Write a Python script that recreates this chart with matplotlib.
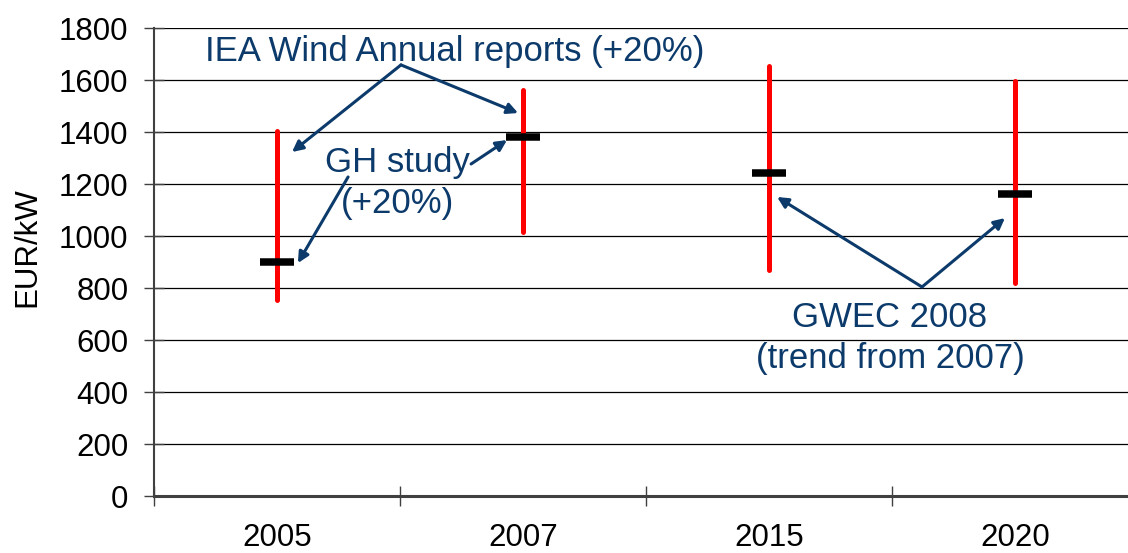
import matplotlib

matplotlib.use("Agg")
import matplotlib.pyplot as plt

plt.rcParams["font.family"] = ["Liberation Sans", "DejaVu Sans"]

# cost ranges per year (EUR/kW): red bar = low..high, black dash = central value
years = ["2005", "2007", "2015", "2020"]
cost_low = [752, 1016, 869, 819]
cost_high = [1405, 1561, 1654, 1597]
cost_mid = [900, 1381, 1241, 1161]

NAVY = "#0b3a6b"
W, H = 1128, 553

fig = plt.figure(figsize=(W / 100, H / 100), dpi=100)
ax = fig.add_axes([154 / W, 57 / H, 984 / W, 468 / H])

x = list(range(len(years)))
red = ax.vlines(x, cost_low, cost_high, color="#ff0000", lw=3.6, zorder=3)
red.set_capstyle("round")
ax.hlines(cost_mid, [i - 0.068 for i in x], [i + 0.068 for i in x],
          color="black", lw=5.4, zorder=4)

ax.set_xlim(-0.5, 3.5)
ax.set_ylim(0, 1800)
ax.set_yticks(range(0, 1801, 200))
ax.yaxis.grid(True, color="black", lw=0.9)
ax.set_axisbelow(True)

# category ticks sit between the labels
ax.set_xticks([-0.5, 0.5, 1.5, 2.5, 3.5])
ax.set_xticklabels([])
ax.set_xticks(x, minor=True)
ax.set_xticklabels(years, minor=True)
ax.tick_params(axis="x", which="major", direction="inout", length=14, width=1, color="#404040")
ax.tick_params(axis="x", which="minor", length=0, pad=19.5, labelsize=22.5)
ax.tick_params(axis="y", direction="inout", length=14, width=1, color="#404040",
               pad=11.5, labelsize=22.5)

for side in ("top", "right"):
    ax.spines[side].set_visible(False)
ax.spines["left"].set_color("#404040")
ax.spines["left"].set_linewidth(1.5)
ax.spines["bottom"].set_color("#404040")
ax.spines["bottom"].set_linewidth(2.2)

fig.text(27 / W, 1 - 247 / H, "EUR/kW", rotation=90, ha="center", va="center", fontsize=22.5)

arrow = dict(arrowstyle="-|>", color=NAVY, lw=2.2, mutation_scale=16, shrinkA=0, shrinkB=0)
ann = dict(color=NAVY, fontsize=25, ha="center", va="baseline", zorder=6)

# IEA Wind
ax.text(0.724, 1673, "IEA Wind Annual reports (+20%)", **ann)
ax.annotate("", xy=(0.061, 1323), xytext=(0.504, 1658), arrowprops=arrow)
ax.annotate("", xy=(0.980, 1473), xytext=(0.504, 1658), arrowprops=arrow)

# GH study
ax.text(0.488, 1246, "GH study", **ann)
ax.text(0.488, 1088, "(+20%)", **ann)
ax.annotate("", xy=(0.085, 896), xytext=(0.289, 1227), arrowprops=arrow)
ax.annotate("", xy=(0.935, 1369), xytext=(0.789, 1277), arrowprops=arrow)

# GWEC 2008
ax.text(2.492, 650, "GWEC 2008", **ann)
ax.text(2.492, 492, "(trend from 2007)", **ann)
ax.annotate("", xy=(2.033, 1150), xytext=(2.622, 804), arrowprops=arrow)
ax.annotate("", xy=(2.959, 1069), xytext=(2.622, 804), arrowprops=arrow)

fig.savefig("out.png", dpi=100)
